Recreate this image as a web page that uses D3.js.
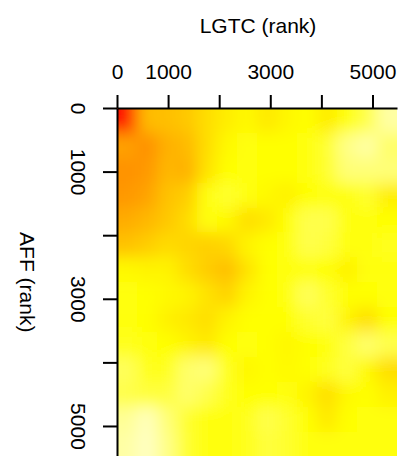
<!DOCTYPE html>
<html>
<head>
<meta charset="utf-8">
<script src="https://cdn.jsdelivr.net/npm/d3@7"></script>
<style>
body { margin: 0; background: #fff; }
svg { display: block; font-family: "Liberation Sans", Arial, Helvetica, sans-serif; }
</style>
</head>
<body>
<div id="chart"></div>
<script>
// RANK RANGE AND TICKS
const rankMax = 5480;
const xTicks = [0, 1000, 2000, 3000, 4000, 5000];
const xTickLabels = ["0", "1000", "", "3000", "", "5000"];
const yTicks = [0, 1000, 2000, 3000, 4000, 5000];
const yTickLabels = ["0", "1000", "", "3000", "", "5000"];
const xTitle = "LGTC (rank)";
const yTitle = "AFF (rank)";

// HEAT LEVEL PER CELL (0 = red, 0.7 = yellow, 1 = pale). ROW 0 = AFF RANK 0, COL 0 = LGTC RANK 0
const heat = [
    [0.04, 0.46, 0.47, 0.50, 0.58, 0.64, 0.68, 0.62, 0.67, 0.70, 0.63, 0.72, 0.80, 0.92],
    [0.36, 0.30, 0.42, 0.45, 0.58, 0.68, 0.72, 0.70, 0.70, 0.72, 0.76, 0.88, 0.92, 0.84],
    [0.31, 0.33, 0.44, 0.42, 0.60, 0.70, 0.72, 0.70, 0.70, 0.72, 0.76, 0.86, 0.86, 0.86],
    [0.33, 0.37, 0.48, 0.52, 0.72, 0.76, 0.72, 0.68, 0.65, 0.70, 0.72, 0.72, 0.76, 0.64],
    [0.40, 0.44, 0.50, 0.57, 0.72, 0.68, 0.58, 0.62, 0.70, 0.80, 0.80, 0.72, 0.72, 0.70],
    [0.48, 0.52, 0.57, 0.55, 0.53, 0.56, 0.66, 0.70, 0.72, 0.80, 0.78, 0.72, 0.72, 0.74],
    [0.68, 0.66, 0.66, 0.58, 0.52, 0.47, 0.60, 0.70, 0.72, 0.72, 0.70, 0.65, 0.72, 0.72],
    [0.72, 0.70, 0.68, 0.66, 0.60, 0.54, 0.66, 0.70, 0.72, 0.82, 0.76, 0.70, 0.70, 0.72],
    [0.72, 0.70, 0.65, 0.62, 0.58, 0.66, 0.70, 0.70, 0.70, 0.76, 0.78, 0.66, 0.58, 0.70],
    [0.74, 0.72, 0.70, 0.66, 0.62, 0.70, 0.72, 0.70, 0.67, 0.70, 0.72, 0.78, 0.84, 0.80],
    [0.82, 0.74, 0.74, 0.84, 0.86, 0.74, 0.67, 0.70, 0.68, 0.70, 0.74, 0.78, 0.68, 0.58],
    [0.80, 0.78, 0.78, 0.84, 0.80, 0.74, 0.70, 0.70, 0.72, 0.66, 0.58, 0.68, 0.70, 0.65],
    [0.90, 0.95, 0.86, 0.76, 0.72, 0.72, 0.74, 0.80, 0.76, 0.70, 0.62, 0.70, 0.72, 0.72],
    [0.92, 0.96, 0.88, 0.76, 0.72, 0.72, 0.74, 0.78, 0.76, 0.72, 0.72, 0.72, 0.72, 0.72]
];

// COLOUR RAMP (HEAT STYLE)
const heatStops = [0, 0.3, 0.7, 1];
const heatColors = ["#ff0000", "#ff9000", "#ffff00", "#ffffe0"];

let width = 409;
let height = 456;
let plot = {left: 117, right: 397, top: 108, bottom: 456.5};
let fontSize = 21;

let svg = d3.select("#chart").append("svg")
    .attr("width", width)
    .attr("height", height);

// SCALES
let x = d3.scaleLinear().domain([0, rankMax]).range([plot.left, plot.right]);
let y = d3.scaleLinear().domain([0, rankMax]).range([plot.top, plot.bottom]);
let nRows = heat.length;
let nCols = heat[0].length;
let xBand = d3.scaleBand().domain(d3.range(nCols)).range(x.range());
let yBand = d3.scaleBand().domain(d3.range(nRows)).range(y.range());
let color = d3.scaleLinear().domain(heatStops).range(heatColors).clamp(true);

// CLIP + SMOOTHING FILTER
let defs = svg.append("defs");
defs.append("clipPath").attr("id", "plotClip")
    .append("rect")
    .attr("x", plot.left)
    .attr("y", plot.top)
    .attr("width", plot.right - plot.left)
    .attr("height", plot.bottom - plot.top);
defs.append("filter").attr("id", "smooth")
    .attr("x", "-20%").attr("y", "-20%").attr("width", "140%").attr("height", "140%")
    .append("feGaussianBlur").attr("stdDeviation", 8);

// HEAT CELLS (edge cells pushed past the border so the blur doesn't fade there)
let cells = [];
heat.forEach((row, i) => row.forEach((v, j) => cells.push({i: i, j: j, v: v})));
let pad = 40;

svg.append("g")
    .attr("clip-path", "url(#plotClip)")
    .append("g")
    .attr("filter", "url(#smooth)")
    .selectAll("rect")
    .data(cells)
    .join("rect")
    .attr("x", d => xBand(d.j) - (d.j === 0 ? pad : 0))
    .attr("y", d => yBand(d.i) - (d.i === 0 ? pad : 0))
    .attr("width", d => xBand.bandwidth() + 0.5 + (d.j === 0 || d.j === nCols - 1 ? pad : 0))
    .attr("height", d => yBand.bandwidth() + 0.5 + (d.i === 0 || d.i === nRows - 1 ? pad : 0))
    .attr("fill", d => color(d.v));

// TOP AXIS
let xAxis = d3.axisTop(x)
    .tickValues(xTicks)
    .tickFormat((d, i) => xTickLabels[i])
    .tickSize(13)
    .tickSizeOuter(0)
    .tickPadding(16);

svg.append("g")
    .attr("transform", "translate(0," + plot.top + ")")
    .call(xAxis)
    .attr("font-size", null)
    .attr("font-family", null)
    .call(g => g.selectAll("path, line").attr("stroke", "#000").attr("stroke-width", 2))
    .call(g => g.selectAll("text").attr("fill", "#000").style("font-size", fontSize + "px"));

// LEFT AXIS (labels turned to read downwards)
let yAxis = d3.axisLeft(y)
    .tickValues(yTicks)
    .tickFormat((d, i) => yTickLabels[i])
    .tickSize(14)
    .tickSizeOuter(0);

svg.append("g")
    .attr("transform", "translate(" + plot.left + ",0)")
    .call(yAxis)
    .attr("font-size", null)
    .attr("font-family", null)
    .call(g => g.selectAll("path, line").attr("stroke", "#000").attr("stroke-width", 2))
    .call(g => g.selectAll(".tick text")
        .attr("x", null)
        .attr("dy", null)
        .attr("text-anchor", "middle")
        .attr("transform", "translate(-46.5,0) rotate(90)")
        .attr("fill", "#000")
        .style("font-size", fontSize + "px"));

// AXIS TITLES
svg.append("text")
    .attr("x", 258)
    .attr("y", 33)
    .attr("text-anchor", "middle")
    .style("font-size", fontSize + "px")
    .text(xTitle);

svg.append("text")
    .attr("transform", "translate(20," + ((plot.top + plot.bottom) / 2) + ") rotate(90)")
    .attr("text-anchor", "middle")
    .style("font-size", fontSize + "px")
    .text(yTitle);
</script>
</body>
</html>
